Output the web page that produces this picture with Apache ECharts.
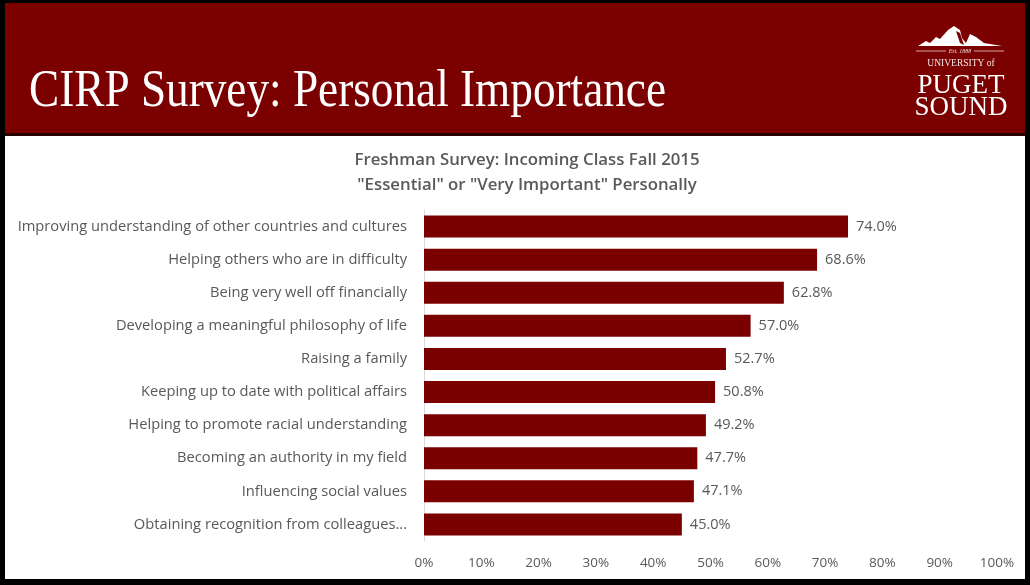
<!DOCTYPE html>
<html>
<head>
<meta charset="utf-8">
<script src="https://cdn.jsdelivr.net/npm/echarts@6/dist/echarts.min.js"></script>
<style>
  html, body { margin: 0; padding: 0; background: #000; }
  #chart { width: 1030px; height: 585px; }
</style>
</head>
<body>
<div id="chart"></div>
<script>
// Survey items, top to bottom
const categories = [
  'Improving understanding of other countries and cultures',
  'Helping others who are in difficulty',
  'Being very well off financially',
  'Developing a meaningful philosophy of life',
  'Raising a family',
  'Keeping up to date with political affairs',
  'Helping to promote racial understanding',
  'Becoming an authority in my field',
  'Influencing social values',
  'Obtaining recognition from colleagues...'
];
// Percent answering "Essential" or "Very Important"
const values = [74.0, 68.6, 62.8, 57.0, 52.7, 50.8, 49.2, 47.7, 47.1, 45.0];
const xTicks = [0, 10, 20, 30, 40, 50, 60, 70, 80, 90, 100];

const maroon = '#7a0000';
const textGray = '#595959';
const labelFont = '"Open Sans", Lato, sans-serif';
const serif = '"Liberation Serif", "DejaVu Serif", serif';

const chart = echarts.init(document.getElementById('chart'));
chart.setOption({
  backgroundColor: '#000',
  animation: false,
  title: {
    text: 'Freshman Survey: Incoming Class Fall 2015\n"Essential" or "Very Important" Personally',
    left: 522,
    top: 143,
    textAlign: 'center',
    textStyle: {
      color: textGray,
      fontFamily: labelFont,
      fontSize: 16.8,
      fontWeight: 600,
      lineHeight: 25
    }
  },
  graphic: [
    // white page area
    { type: 'rect', z: -10, shape: { x: 5, y: 3, width: 1020, height: 576 }, style: { fill: '#fff' } },
    // header band
    { type: 'rect', z: -9, shape: { x: 5, y: 3, width: 1020, height: 130 }, style: { fill: '#7b0000' } },
    { type: 'rect', z: -9, shape: { x: 5, y: 133, width: 1020, height: 3 }, style: { fill: '#2a0000' } },
    {
      type: 'text', x: 29, y: 92, scaleX: 0.87,
      style: { text: 'CIRP Survey: Personal Importance', fill: '#fff', font: '52px ' + serif, verticalAlign: 'middle' }
    },
    // logo: mountain silhouette
    {
      type: 'polygon',
      shape: { points: [[918, 46], [926, 41], [930, 43], [936, 37], [940, 39], [948, 30], [954, 26], [960, 30], [962, 38], [966, 43], [970, 34], [976, 37], [984, 43], [990, 44], [1002, 46]] },
      style: { fill: '#fff' }
    },
    { type: 'polygon', shape: { points: [[956, 31], [960, 43], [964, 45], [960, 33]] }, style: { fill: '#7b0000' } },
    { type: 'line', shape: { x1: 916, y1: 51, x2: 946, y2: 51 }, style: { stroke: '#f2d6d6', lineWidth: 0.8 } },
    { type: 'line', shape: { x1: 974, y1: 51, x2: 1004, y2: 51 }, style: { stroke: '#f2d6d6', lineWidth: 0.8 } },
    { type: 'text', x: 960, y: 48, style: { text: 'Est. 1888', fill: '#f2d6d6', font: 'italic 6px ' + serif, align: 'center' } },
    { type: 'text', x: 961, y: 58, style: { text: 'UNIVERSITY of', fill: '#f5e6e6', font: '9.5px ' + serif, align: 'center', letterSpacing: 1.2 } },
    { type: 'text', x: 961, y: 72, style: { text: 'PUGET', fill: '#fff', font: '27px ' + serif, align: 'center', letterSpacing: 0.5 } },
    { type: 'text', x: 961, y: 94, style: { text: 'SOUND', fill: '#fff', font: '27px ' + serif, align: 'center' } }
  ],
  grid: { left: 424, right: 33, top: 210, bottom: 44, containLabel: false },
  xAxis: {
    type: 'value',
    min: 0,
    max: 100,
    interval: 10,
    axisLine: { show: false },
    axisTick: { show: false },
    splitLine: { show: false },
    axisLabel: {
      color: textGray,
      fontFamily: labelFont,
      fontSize: 13.5,
      margin: 15,
      formatter: v => xTicks.includes(v) ? v + '%' : ''
    }
  },
  yAxis: {
    type: 'category',
    data: categories,
    inverse: true,
    axisLine: { show: true, lineStyle: { color: '#d9d9d9', width: 1 } },
    axisTick: { show: false },
    axisLabel: {
      color: textGray,
      fontFamily: labelFont,
      fontSize: 14.7,
      margin: 17
    }
  },
  series: [{
    type: 'bar',
    data: values,
    barWidth: 22,
    itemStyle: { color: maroon },
    label: {
      show: true,
      position: 'right',
      distance: 8,
      color: textGray,
      fontFamily: labelFont,
      fontSize: 14.5,
      formatter: p => p.value.toFixed(1) + '%'
    }
  }]
});
</script>
</body>
</html>
